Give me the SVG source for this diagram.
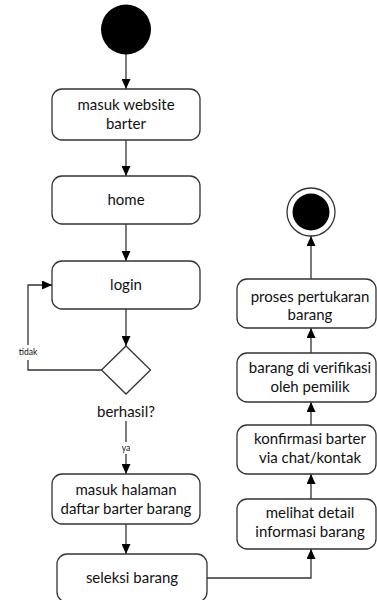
<svg xmlns="http://www.w3.org/2000/svg" width="377" height="600" viewBox="0 0 377 600">
<style>
.box{fill:#fff;stroke:#333;stroke-width:1.3}
.t{font-family:Lato,"Open Sans",sans-serif;font-size:15px;fill:#111;text-anchor:middle}
.s{font-family:Lato,"Open Sans",sans-serif;font-size:8.5px;fill:#111;text-anchor:middle}
.c{fill:none;stroke:#333;stroke-width:1.3;marker-end:url(#ah)}
.bg{fill:#fff}
</style>
<defs>
<marker id="ah" markerUnits="userSpaceOnUse" markerWidth="10" markerHeight="9" refX="10" refY="4.5" orient="auto">
<path d="M0,0 L10,4.5 L0,9 z" fill="#000"/>
</marker>
</defs>
<rect width="377" height="600" fill="#fff"/>
<g id="connectors">
<path class="c" d="M126,54 V89"/>
<path class="c" d="M126,140 V176"/>
<path class="c" d="M126,224 V261"/>
<path class="c" d="M126,309 V346"/>
<path class="c" d="M102,370 H28 V285 H52"/>
<path class="c" d="M126,421 V474"/>
<path class="c" d="M126,524 V554"/>
<path class="c" d="M207,578 H311 V549"/>
<path class="c" d="M311,499 V474"/>
<path class="c" d="M311,425 V402"/>
<path class="c" d="M311,353 V328"/>
<path class="c" d="M311,279 V236"/>
<rect class="bg" x="16" y="345" width="24" height="15"/>
<text class="s" x="28" y="355">tidak</text>
<rect class="bg" x="119" y="442" width="14" height="12"/>
<text class="s" x="126" y="451">ya</text>
</g>
<g id="start"><circle cx="126" cy="29.5" r="25" fill="#000"/></g>
<g id="masuk-website"><rect class="box" x="52" y="89" width="148" height="51" rx="10"/><text class="t" x="126" y="110">masuk website</text><text class="t" x="126" y="129">barter</text></g>
<g id="home"><rect class="box" x="52" y="176" width="148" height="48" rx="10"/><text class="t" x="126" y="205">home</text></g>
<g id="login"><rect class="box" x="52" y="261" width="148" height="48" rx="10"/><text class="t" x="126" y="290">login</text></g>
<g id="decision"><path class="box" d="M126,346 L150.5,370 L126,394 L101.5,370 Z"/><text class="t" x="126" y="417">berhasil?</text></g>
<g id="masuk-halaman"><rect class="box" x="52" y="474" width="148" height="50" rx="10"/><text class="t" x="126" y="495">masuk halaman</text><text class="t" x="126" y="514">daftar barter barang</text></g>
<g id="seleksi"><rect class="box" x="57" y="554" width="150" height="48" rx="10"/><text class="t" x="132" y="583">seleksi barang</text></g>
<g id="melihat"><rect class="box" x="237" y="499" width="139" height="50" rx="10"/><text class="t" x="310" y="518">melihat detail</text><text class="t" x="310" y="537">informasi barang</text></g>
<g id="konfirmasi"><rect class="box" x="237" y="425" width="139" height="49" rx="10"/><text class="t" x="310" y="444">konfirmasi barter</text><text class="t" x="310" y="463">via chat/kontak</text></g>
<g id="verifikasi"><rect class="box" x="237" y="353" width="139" height="49" rx="10"/><text class="t" x="310" y="373">barang di verifikasi</text><text class="t" x="310" y="392">oleh pemilik</text></g>
<g id="proses"><rect class="box" x="237" y="279" width="139" height="49" rx="10"/><text class="t" x="310" y="302">proses pertukaran</text><text class="t" x="310" y="320">barang</text></g>
<g id="end"><circle cx="311" cy="212" r="24" fill="#fff" stroke="#333" stroke-width="1.3"/><circle cx="311" cy="212" r="18.5" fill="#000"/></g>
</svg>
